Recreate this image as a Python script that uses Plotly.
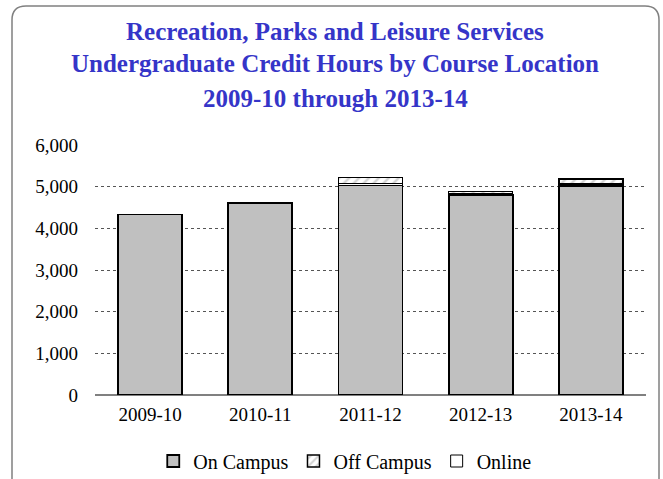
"""
Undergraduate credit hours by course location, stacked bars.
"""
import plotly.graph_objects as go

years = ["2009-10", "2010-11", "2011-12", "2012-13", "2013-14"]
on_campus = [4330, 4600, 5040, 4800, 5020]
off_campus = [0, 0, 150, 60, 130]
online = [0, 0, 35, 30, 40]

title_lines = [
    "Recreation, Parks and Leisure Services",
    "Undergraduate Credit Hours by Course Location",
    "2009-10 through 2013-14",
]

FONT = "Liberation Serif, Times New Roman, serif"

fig = go.Figure()
fig.add_trace(go.Bar(
    x=years, y=on_campus, name="On Campus", legendrank=1,
    marker=dict(color="#c0c0c0", line=dict(color="black", width=1.8)),
))
# thin online segment sits just above on-campus in the picture
fig.add_trace(go.Bar(
    x=years, y=online, name="Online", legendrank=3,
    marker=dict(color="white", line=dict(color="black", width=1.0)),
))
fig.add_trace(go.Bar(
    x=years, y=off_campus, name="Off Campus", legendrank=2,
    marker=dict(color="white", line=dict(color="black", width=1.5),
                pattern=dict(shape="/", fgcolor="#a8a8a8", bgcolor="white", size=7, solidity=0.35)),
))

# plot area in pixels: x 95..646, y 145..395
L, R, T, B = 95, 646, 145, 395
W, H = R - L, B - T


def px(x):
    return (x - L) / W


def py(y):
    return (B - y) / H


x0, x1, y0, y1, r = 12, 659, 6, 495, 14
border = (
    f"M {px(x0 + r)},{py(y0)} L {px(x1 - r)},{py(y0)} "
    f"Q {px(x1)},{py(y0)} {px(x1)},{py(y0 + r)} "
    f"L {px(x1)},{py(y1 - r)} Q {px(x1)},{py(y1)} {px(x1 - r)},{py(y1)} "
    f"L {px(x0 + r)},{py(y1)} Q {px(x0)},{py(y1)} {px(x0)},{py(y1 - r)} "
    f"L {px(x0)},{py(y0 + r)} Q {px(x0)},{py(y0)} {px(x0 + r)},{py(y0)} Z"
)

annotations = [
    dict(text=line, xref="paper", yref="paper", x=px(335), y=py(ypos),
         xanchor="center", yanchor="middle", showarrow=False,
         font=dict(family=FONT, size=25, color="#3535c8", weight="bold"))
    for line, ypos in zip(title_lines, [31, 64, 98])
]

fig.update_layout(
    width=663, height=479,
    margin=dict(l=L, r=663 - R, t=T, b=479 - B, autoexpand=False),
    barmode="stack",
    bargap=0.42,
    paper_bgcolor="white",
    plot_bgcolor="white",
    font=dict(family=FONT, size=19, color="black"),
    showlegend=True,
    legend=dict(
        orientation="h", x=0.52, xanchor="center", xref="container",
        y=1 - 461 / 479, yanchor="middle", yref="container",
        font=dict(family=FONT, size=20), itemwidth=30, traceorder="normal",
    ),
    annotations=annotations,
    shapes=[dict(type="path", xref="paper", yref="paper", path=border,
                 line=dict(color="#808080", width=1.5), layer="above")],
)
fig.update_yaxes(
    range=[0, 6000], dtick=1000, tickformat=",",
    showgrid=True, gridcolor="#555555", griddash="dot", gridwidth=1,
    zeroline=True, zerolinecolor="#808080", zerolinewidth=2,
    ticks="", ticklen=0, ticklabelstandoff=16, tickfont=dict(size=19),
    showline=False,
)
fig.update_xaxes(
    type="category", showgrid=False, showline=False, ticks="",
    ticklabelstandoff=6, tickfont=dict(size=19),
)

fig.write_html("out.html", config={"displayModeBar": False},
               post_script="document.body.style.margin='0';")
